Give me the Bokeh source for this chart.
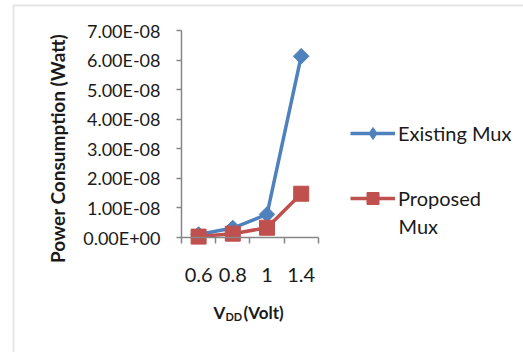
import math

from bokeh.plotting import figure
from bokeh.models import (FactorRange, Range1d, LinearAxis, CategoricalScale, CategoricalAxis,
                          FixedTicker, CustomJSTickFormatter, Legend, LegendItem, Label,
                          BoxAnnotation)
from bokeh.embed import file_html
from bokeh.resources import INLINE

# Supply voltage categories and measured power (W)
vdd = ["0.6", "0.8", "1", "1.4"]
existing_mux = [0.10e-8, 0.32e-8, 0.78e-8, 6.13e-8]
proposed_mux = [0.03e-8, 0.13e-8, 0.33e-8, 1.48e-8]
y_ticks = [0, 1e-8, 2e-8, 3e-8, 4e-8, 5e-8, 6e-8, 7e-8]
y_max = 7e-8

BLUE = "#4F81BD"
RED = "#C0504D"
AXIS = "#868686"
TEXT = "#1a1a1a"
FONT = "Lato"

W, H = 523, 352
LEFT = 10                   # frame starts here and runs to the right edge
Y_TOP_PX, Y_ZERO_PX = 30, 237   # rows of the top tick and of zero

# The frame covers the whole chart area; empty slots on either side of the
# voltage categories leave room for the axis labels and the legend.
n_left, n_right = 5, 6
left_slots = [f"l{i}" for i in range(n_left)]
right_slots = [f"r{i}" for i in range(n_right)]
factors = left_slots + vdd + right_slots

px_per_unit = (Y_ZERO_PX - Y_TOP_PX) / y_max
y_range = Range1d(-(H - Y_ZERO_PX) / px_per_unit, y_max + Y_TOP_PX / px_per_unit)

p = figure(width=W, height=H, x_range=FactorRange(*factors), y_range=y_range,
           x_axis_location=None, y_axis_location=None,
           output_backend="svg", toolbar_location=None,
           min_border_left=LEFT, min_border_right=0, min_border_top=0, min_border_bottom=0)
p.outline_line_color = None
p.xgrid.visible = False
p.ygrid.visible = False
p.background_fill_color = "white"
p.border_fill_color = "white"

x0 = n_left                  # left boundary of the first voltage slot
x1 = n_left + len(vdd)       # right boundary of the last one

# y axis in scientific notation with two-digit exponent
fmt = CustomJSTickFormatter(code="""
    let s = tick.toExponential(2).toUpperCase();
    return s.replace(/E([+-])(\\d)$/, "E$10$2");
""")
yaxis = LinearAxis(ticker=FixedTicker(ticks=y_ticks), formatter=fmt, bounds=(0, y_max),
                   fixed_location=x0,
                   axis_line_color=AXIS, axis_line_width=1.5,
                   major_tick_line_color=AXIS, major_tick_line_width=1.5,
                   major_tick_in=0, major_tick_out=5, minor_tick_line_color=None,
                   major_label_standoff=16, major_label_text_font=FONT,
                   major_label_text_font_size="18px", major_label_text_color=TEXT)
p.add_layout(yaxis, "left")

# tick marks on the slot boundaries: one factor per boundary, trimmed by half
# a slot on each side so the factors sit on the boundaries
edges = [f"b{i}" for i in range(len(factors) + 1)]
p.extra_x_ranges = {"edges": FactorRange(*edges, range_padding=-0.5,
                                         range_padding_units="absolute")}
p.extra_x_scales = {"edges": CategoricalScale()}
eps = 1e-3
edge_axis = CategoricalAxis(x_range_name="edges", fixed_location=0,
                            bounds=(x0 + 0.5 - eps, x1 + 0.5 + eps),
                            axis_line_color=AXIS, axis_line_width=1.5,
                            major_tick_line_color=AXIS, major_tick_line_width=1.5,
                            major_tick_in=0, major_tick_out=6,
                            major_label_text_color=None, major_label_text_font_size="1px")
p.add_layout(edge_axis, "below")

cat_axis = CategoricalAxis(fixed_location=0, bounds=(x0, x1),
                           axis_line_color=None, major_tick_line_color=None,
                           major_tick_out=0, major_label_standoff=30,
                           major_label_text_font=FONT, major_label_text_font_size="20px",
                           major_label_text_color=TEXT)
p.add_layout(cat_axis, "below")

l1 = p.line(vdd, existing_mux, line_color=BLUE, line_width=3.5)
# narrow diamonds (used as the legend swatch) sit under the wider point markers
swatch = p.scatter(vdd, existing_mux, marker="diamond", size=14,
                   fill_color=BLUE, line_color=BLUE)
m1 = p.scatter(vdd, existing_mux, marker="square", angle=math.pi / 4, size=11,
               fill_color=BLUE, line_color=BLUE)
l2 = p.line(vdd, proposed_mux, line_color=RED, line_width=3.5)
m2 = p.scatter(vdd, proposed_mux, marker="square", size=15, fill_color=RED, line_color=RED)

legend = Legend(items=[LegendItem(label="Existing Mux", renderers=[l1, swatch]),
                       LegendItem(label="Proposed", renderers=[l2, m2])],
                location=(350 - LEFT, H - 213), orientation="vertical",
                glyph_width=45, glyph_height=30, label_height=30, label_standoff=3,
                spacing=35, padding=0, margin=0, border_line_color=None,
                background_fill_alpha=0, label_text_font=FONT, label_text_font_size="20px",
                label_text_color=TEXT)
p.add_layout(legend)


def y_at(row):
    """Data y value of a pixel row."""
    return (Y_ZERO_PX - row) / px_per_unit


def text_at(text, cx, row, **kw):
    p.add_layout(Label(x=cx - LEFT, y=y_at(row), x_units="screen", y_units="data",
                       text=text, text_font=FONT, text_color=TEXT, **kw))


text_at("Mux", 398, 225, text_font_size="20px", text_baseline="middle")

# axis titles
text_at("Power Consumption (Watt)", 57, 148, angle=math.pi / 2, text_align="center",
        text_baseline="middle", text_font_size="19px", text_font_style="bold")
text_at("V", 213, 312, text_font_size="17px", text_font_style="bold",
        text_baseline="alphabetic")
text_at("DD", 225, 316, text_font_size="11px", text_font_style="bold",
        text_baseline="alphabetic")
text_at("(Volt)", 243, 312, text_font_size="17px", text_font_style="bold",
        text_baseline="alphabetic")

# chart area outline (left and top edges)
p.add_layout(BoxAnnotation(left=13 - LEFT, right=W + 50, top=y_at(5), bottom=y_at(H + 50),
                           left_units="screen", right_units="screen",
                           fill_color=None, fill_alpha=0,
                           line_color="#A6A6A6", line_width=2))

open("out.html", "w").write(file_html(p, INLINE))
